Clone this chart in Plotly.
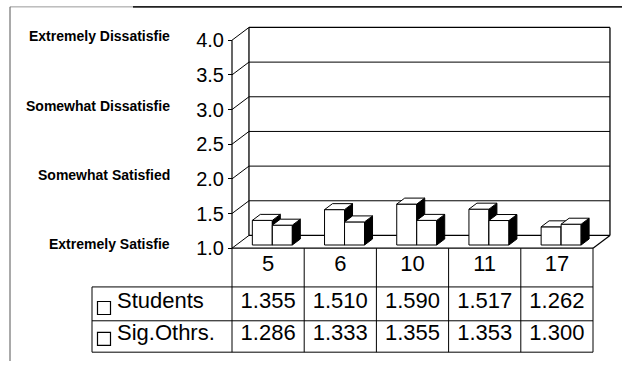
import plotly.graph_objects as go

# ---------------- data ----------------
categories = ["5", "6", "10", "11", "17"]
students = [1.355, 1.510, 1.590, 1.517, 1.262]
sig_othrs = [1.286, 1.333, 1.355, 1.353, 1.300]
series_names = ["Students", "Sig.Othrs."]
y_ticks = [1.0, 1.5, 2.0, 2.5, 3.0, 3.5, 4.0]
scale_values = [4, 3, 2, 1]
scale_labels = ["Extremely Dissatisfie", "Somewhat Dissatisfie",
                "Somewhat Satisfied", "Extremely Satisfie"]

# ---------------- layout constants (pixels) ----------------
W, H = 643, 368
FONT = "Arial, 'Liberation Sans', sans-serif"
X0 = 232.0      # front-left edge of the floor / first table column
COL = 72.2      # px per category
Y1 = 253.0      # px of y = 1.0 on the front plane
UY = 70.67      # px per y unit
DX, DY = 0.235, 0.184   # 3D depth offset in data units
PAD = 4
BD0, BD1 = 0.25, 0.72   # bar depth range (fraction of floor depth)
BW = 0.277              # bar width in category units
YMIN, YMAX = 1.0, 4.0
n = len(categories)

TL = 92.0                       # table legend column left edge
ROW_Y = [253, 292.5, 327, 359]  # table row boundaries
ROW_TEXT_Y = [270.5, 308, 340.5]
SQ_X, SQ_Y = 104, [314, 345.5]


def fx(px):
    return px / W


def fy(py):
    return 1 - py / H


x_lo, x_hi = -0.5, n - 0.5
xr = [x_lo - PAD / COL, x_hi + DX + PAD / COL]
x_dom = [fx(X0 - PAD), fx(X0 + COL * (n + DX) + PAD)]
yr = [YMIN - PAD / UY, YMAX + DY + PAD / UY]
y_dom = [fy(Y1 + PAD), fy(Y1 - UY * (YMAX - YMIN + DY) - PAD)]

fig = go.Figure()


def faces(vals, off):
    sx, sy, tx, ty = [], [], [], []
    ddx, ddy = (BD1 - BD0) * DX, (BD1 - BD0) * DY
    for i, v in enumerate(vals):
        x0 = i + off + BD0 * DX
        x1 = x0 + BW
        b = YMIN + BD0 * DY
        t = v + BD0 * DY
        sx += [x1, x1 + ddx, x1 + ddx, x1, x1, None]
        sy += [b, b + ddy, t + ddy, t, b, None]
        tx += [x0, x1, x1 + ddx, x0 + ddx, x0, None]
        ty += [t, t, t + ddy, t + ddy, t, None]
    return sx, sy, tx, ty


for vals, off, name, xa, ya in [(students, -BW, series_names[0], "x", "y"),
                                (sig_othrs, 0.0, series_names[1], "x2", "y2")]:
    fig.add_trace(go.Bar(
        x=list(range(n)), y=[v - YMIN for v in vals], base=YMIN + BD0 * DY,
        offset=off + BD0 * DX, width=BW, name=name, customdata=vals,
        hovertemplate="%{customdata:.3f}<extra>" + name + "</extra>",
        marker=dict(color="white", line=dict(color="black", width=1)),
        xaxis=xa, yaxis=ya, showlegend=False))
    sx, sy, tx, ty = faces(vals, off)
    fig.add_trace(go.Scatter(x=sx, y=sy, mode="lines", fill="toself",
                             fillcolor="black", line=dict(color="black", width=1),
                             hoverinfo="skip", showlegend=False, xaxis=xa, yaxis=ya))
    fig.add_trace(go.Scatter(x=tx, y=ty, mode="lines", fill="toself",
                             fillcolor="white", line=dict(color="black", width=1),
                             hoverinfo="skip", showlegend=False, xaxis=xa, yaxis=ya))

# ---------------- 3D frame decorations ----------------
shapes = []


def seg(x0, y0, x1, y1, xref="x", yref="y", color="black", width=1, layer="below"):
    shapes.append(dict(type="line", x0=x0, y0=y0, x1=x1, y1=y1, xref=xref, yref=yref,
                       line=dict(color=color, width=width), layer=layer))


for t in y_ticks[1:-1]:
    seg(x_lo + DX, t + DY, x_hi + DX, t + DY)
seg(x_lo + DX, YMIN + DY, x_lo + DX, YMAX + DY, width=1.3)
seg(x_lo + DX, YMAX + DY, x_hi + DX, YMAX + DY, width=1.3)
seg(x_hi + DX, YMAX + DY, x_hi + DX, YMIN + DY, width=1.3)
seg(x_lo + DX, YMIN + DY, x_hi + DX, YMIN + DY, width=1.3)
for t in y_ticks:
    seg(x_lo, t, x_lo + DX, t + DY)
seg(x_lo, YMIN, x_lo, YMAX, width=1.2)
seg(x_lo, YMIN, x_hi, YMIN, width=1.2)
seg(x_hi, YMIN, x_hi + DX, YMIN + DY, width=1.2)

# ---------------- table ----------------
t_right = X0 + n * COL
for k in range(n + 1):
    seg(X0 + k * COL, ROW_Y[0], X0 + k * COL, ROW_Y[-1], "x3", "y3", width=1)
for yy in ROW_Y[1:]:
    seg(TL, yy, t_right, yy, "x3", "y3", width=1)
seg(TL, ROW_Y[1], TL, ROW_Y[-1], "x3", "y3", width=1)

col_centers = [X0 + COL * (i + 0.5) for i in range(n)]
fig.add_trace(go.Scatter(x=col_centers, y=[ROW_TEXT_Y[0]] * n, text=categories,
                         mode="text", textfont=dict(size=22, family=FONT, color="black"),
                         hoverinfo="skip", showlegend=False, xaxis="x3", yaxis="y3"))
for r, vals in enumerate([students, sig_othrs]):
    fig.add_trace(go.Scatter(x=col_centers, y=[ROW_TEXT_Y[r + 1]] * n,
                             text=[f"{v:.3f}" for v in vals], mode="text",
                             textfont=dict(size=22, family=FONT, color="black"),
                             hoverinfo="skip", showlegend=False, xaxis="x3", yaxis="y3"))
fig.add_trace(go.Scatter(x=[117, 117], y=ROW_TEXT_Y[1:], text=series_names, mode="text",
                         textposition="middle right",
                         textfont=dict(size=22, family=FONT, color="black"),
                         hoverinfo="skip", showlegend=False, xaxis="x3", yaxis="y3"))
fig.add_trace(go.Scatter(x=[SQ_X, SQ_X], y=SQ_Y, mode="markers",
                         marker=dict(symbol="square-open", size=13, color="black",
                                     line=dict(width=1.2, color="black")),
                         hoverinfo="skip", showlegend=False, xaxis="x3", yaxis="y3"))

# ---------------- outer frame ----------------
seg(fx(10), fy(7), fx(133), fy(7), "paper", "paper", color="#9a9a9a", width=1, layer="above")
seg(fx(133), fy(7), fx(622), fy(7), "paper", "paper", color="#222222", width=1.6, layer="above")
seg(fx(10), fy(7), fx(10), fy(368), "paper", "paper", color="#555555", width=1, layer="above")

annotations = [dict(text=lab, x=fx(172), xref="paper", xanchor="right", y=v, yref="y",
                    yshift=4, showarrow=False,
                    font=dict(size=14, family=FONT, color="black", weight="bold"))
               for lab, v in zip(scale_labels, scale_values)]

fig.update_layout(
    width=W, height=H, margin=dict(l=0, r=0, t=0, b=0),
    paper_bgcolor="white", plot_bgcolor="rgba(0,0,0,0)",
    showlegend=False, shapes=shapes, annotations=annotations,
    xaxis=dict(domain=x_dom, range=xr, visible=False, fixedrange=True),
    yaxis=dict(domain=y_dom, range=yr, anchor="free", position=fx(X0),
               tickvals=y_ticks, ticktext=[f"{t:.1f}" for t in y_ticks],
               ticks="outside", ticklen=4, tickcolor="black", showgrid=False,
               zeroline=False, showline=False,
               tickfont=dict(size=20, family=FONT, color="black")),
    xaxis2=dict(overlaying="x", range=xr, visible=False),
    yaxis2=dict(overlaying="y", range=yr, visible=False),
    xaxis3=dict(domain=[fx(TL - PAD), fx(t_right + PAD)], range=[TL - PAD, t_right + PAD],
                visible=False, anchor="y3"),
    yaxis3=dict(domain=[fy(ROW_Y[-1] + PAD), fy(ROW_Y[0] - PAD)],
                range=[ROW_Y[-1] + PAD, ROW_Y[0] - PAD], visible=False, anchor="x3"),
)

fig.write_html("out.html")
